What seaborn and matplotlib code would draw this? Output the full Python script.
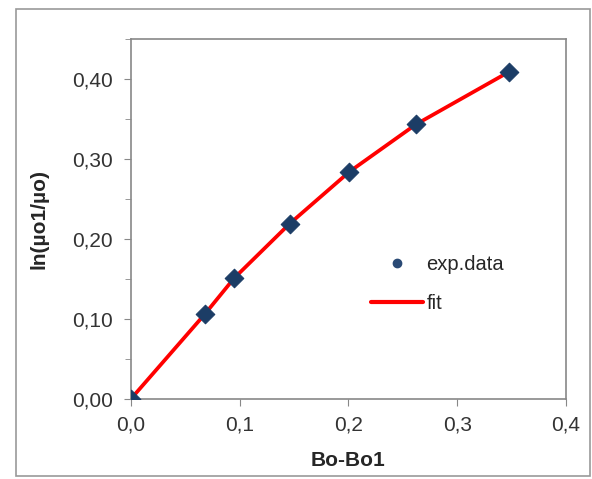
import seaborn as sns
import matplotlib
matplotlib.use("Agg")
import matplotlib.pyplot as plt
import pandas as pd
from matplotlib.ticker import FuncFormatter, MultipleLocator
from matplotlib.patches import Rectangle
from matplotlib.lines import Line2D

# values
bo_diff = [0.0, 0.068, 0.095, 0.146, 0.201, 0.262, 0.348]
ln_visc = [0.0, 0.106, 0.151, 0.219, 0.284, 0.343, 0.409]
x_ticks = [0.0, 0.1, 0.2, 0.3, 0.4]
y_ticks = [0.0, 0.1, 0.2, 0.3, 0.4]

df = pd.DataFrame({"Bo-Bo1": bo_diff, "ln": ln_visc})

sns.set_style("ticks")
plt.rcParams['font.family'] = ['Liberation Sans', 'DejaVu Sans']

fig = plt.figure(figsize=(5.92, 4.79), dpi=100)
ax = fig.add_axes([0.221, 0.167, 0.735, 0.752])

# the fit line, drawn through the points
sns.lineplot(data=df, x="Bo-Bo1", y="ln", ax=ax, color="#ff0000", lw=2.7,
             zorder=2, legend=False)
sns.scatterplot(data=df, x="Bo-Bo1", y="ln", ax=ax, marker="D", s=90,
                color="#1c3d66", edgecolor="#1c3d66", zorder=3, legend=False)

ax.set_xlim(0, 0.4)
ax.set_ylim(0, 0.45)
ax.set_xticks(x_ticks)
ax.set_yticks(y_ticks)
ax.yaxis.set_minor_locator(MultipleLocator(0.05))
ax.xaxis.set_major_formatter(FuncFormatter(lambda v, p: f"{v:.1f}".replace(".", ",")))
ax.yaxis.set_major_formatter(FuncFormatter(lambda v, p: f"{v:.2f}".replace(".", ",")))
ax.tick_params(which="both", direction="out", color="#888888", labelsize=15,
               labelcolor="#333333", length=5)
ax.tick_params(which="minor", length=4)
ax.tick_params(axis="y", pad=8)
ax.tick_params(axis="x", pad=7)
for s in ax.spines.values():
    s.set_color("#888888")
    s.set_linewidth(1.2)

ax.set_xlabel("Bo-Bo1", fontsize=15, fontweight="bold", labelpad=12)
ax.set_ylabel("ln(µo1/µo)", fontsize=15, fontweight="bold", labelpad=17)

handles = [Line2D([], [], ls="none", marker="o", ms=6, color="#2a4a75"),
           Line2D([], [], color="#ff0000", lw=3)]
ax.legend(handles, ["exp.data", "fit"], loc="center left", bbox_to_anchor=(0.51, 0.32),
          frameon=False, fontsize=14.5, handlelength=2.6, handletextpad=0.15,
          labelspacing=1.0)

# grey frame around the whole chart
fig.patches.append(Rectangle((0.027, 0.006), 0.97, 0.975, transform=fig.transFigure,
                             fill=False, edgecolor="#999999", lw=1.2))

fig.savefig("out.png", dpi=100)
